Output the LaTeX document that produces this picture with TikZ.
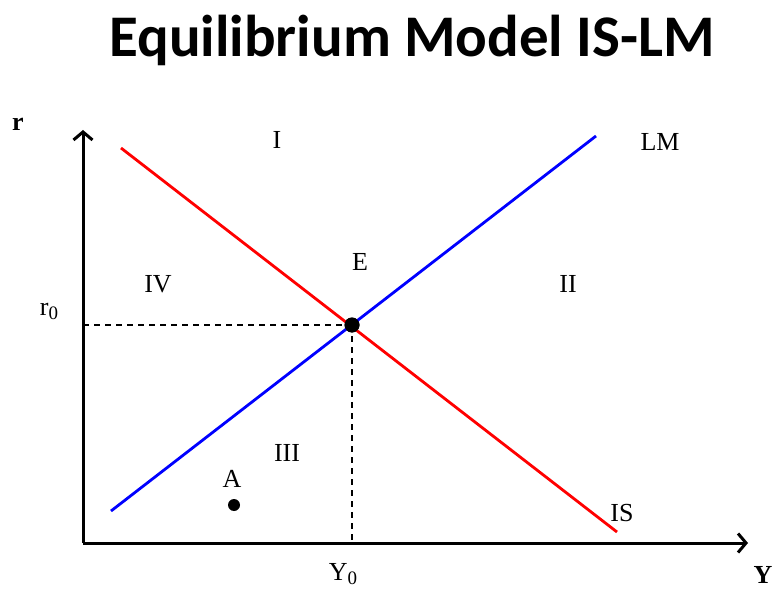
\documentclass[tikz,border=0pt]{standalone}
\usepackage{fontspec}
\setmainfont{Liberation Serif}
\newfontfamily\titlefont{Carlito}
\usetikzlibrary{arrows.meta}
\begin{document}
\begin{tikzpicture}[x=1pt,y=-1pt,
  lbl/.style={font=\fontsize{26}{26}\selectfont, inner sep=0pt},
  axislbl/.style={font=\fontsize{26}{26}\selectfont\bfseries, inner sep=0pt},
  axis/.style={line width=3pt, -{Straight Barb[length=8pt,width=19pt,line width=3pt]}},
  guide/.style={line width=1.4pt, dash pattern=on 6pt off 5pt},
  iscurve/.style={red, line width=2.8pt},
  lmcurve/.style={blue, line width=2.8pt},
  dotE/.style={circle, fill=black, inner sep=0pt, minimum size=15pt},
  dotA/.style={circle, fill=black, inner sep=0pt, minimum size=12pt}]
\useasboundingbox (0,0) rectangle (777,591);
\fill[white] (0,0) rectangle (777,591);
% title
\node[inner sep=0pt, font=\titlefont\fontsize{59}{59}\selectfont\bfseries] (title) at (412,40) {Equilibrium Model IS-LM};
% axes
\coordinate (O) at (83,543);
\coordinate (ytip) at (83,130);
\coordinate (xtip) at (748,543);
\draw[axis] (O) -- (ytip);
\draw[axis] (O) -- (xtip);
% curves
\coordinate (is1) at (121,148);
\coordinate (is2) at (617,532);
\coordinate (lm1) at (111,511);
\coordinate (lm2) at (596,136);
\coordinate (r0) at (83,325);
\coordinate (Y0) at (352,543);
\node[dotE] (E) at (352,325) {};
\draw[guide] (r0) -- (E.center);
\draw[guide] (E.center) -- (Y0);
\draw[iscurve] (is1) -- (is2);
\draw[lmcurve] (lm1) -- (lm2);
\node[dotE] (Edot) at (352,325) {};
% labels
\node[axislbl] (rl) at (18,124) {r};
\node[axislbl] (Yl) at (763,575) {Y};
\node[lbl] (r0l) at (49,311) {r\raisebox{-4pt}{\fontsize{19}{19}\selectfont 0}};
\node[lbl] (Y0l) at (343,574) {Y\raisebox{-4pt}{\fontsize{19}{19}\selectfont 0}};
\node[lbl] (I) at (277,140) {I};
\node[lbl] (LM) at (660,142) {LM};
\node[lbl] (El) at (360,262) {E};
\node[lbl] (IV) at (158,284) {IV};
\node[lbl] (II) at (568,284) {II};
\node[lbl] (III) at (287,453) {III};
\node[lbl] (Al) at (232,479) {A};
\node[dotA] (A) at (234,505) {};
\node[lbl] (IS) at (622,513) {IS};
\end{tikzpicture}
\end{document}
